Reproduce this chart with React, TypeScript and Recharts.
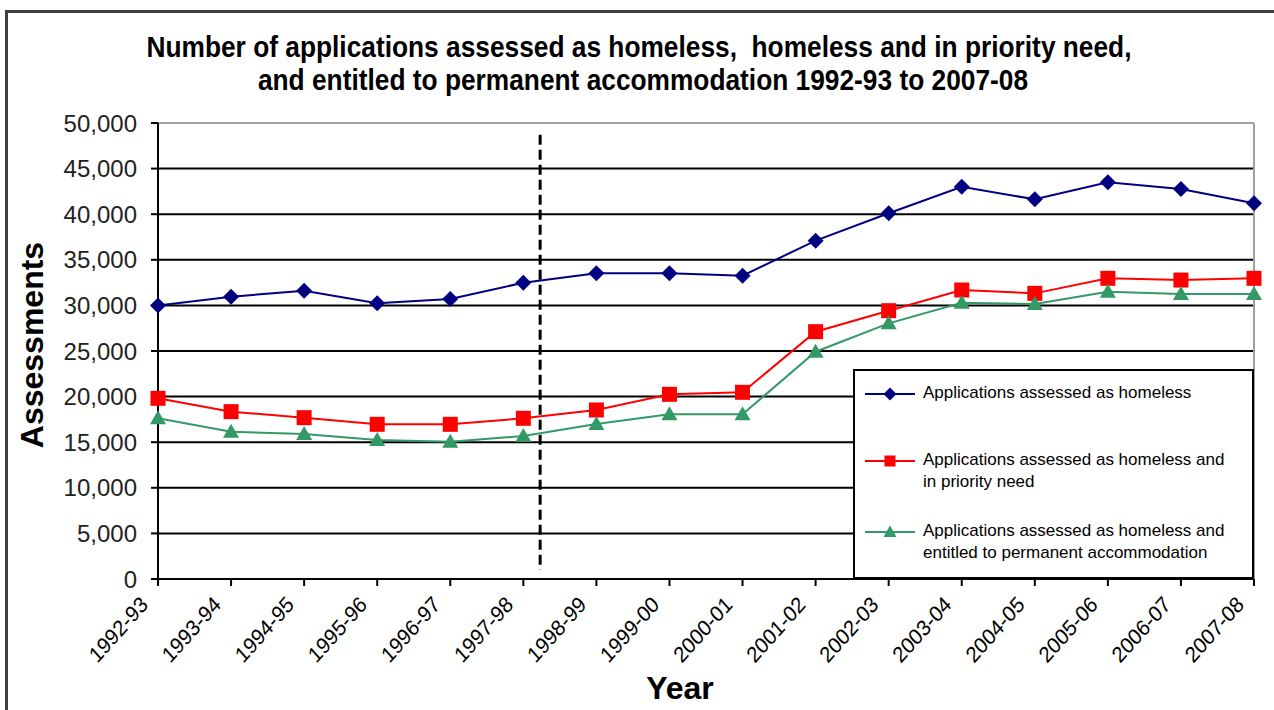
import React from 'react';
import { LineChart, Line, XAxis, YAxis, CartesianGrid, ReferenceLine } from 'recharts';

const years = ['1992-93', '1993-94', '1994-95', '1995-96', '1996-97', '1997-98', '1998-99', '1999-00', '2000-01', '2001-02', '2002-03', '2003-04', '2004-05', '2005-06', '2006-07', '2007-08'];
const homeless = [30000, 30950, 31610, 30230, 30700, 32490, 33520, 33520, 33260, 37100, 40100, 43000, 41630, 43500, 42760, 41200];
const priorityNeed = [19810, 18350, 17690, 16960, 16960, 17620, 18530, 20250, 20470, 27120, 29420, 31690, 31320, 32970, 32780, 32970];
const permanent = [17620, 16150, 15900, 15240, 15060, 15680, 17000, 18060, 18060, 24920, 28030, 30300, 30150, 31500, 31250, 31250];
const yTicks = [0, 5000, 10000, 15000, 20000, 25000, 30000, 35000, 40000, 45000, 50000];
const seriesNames = [
  ['Applications assessed as homeless'],
  ['Applications assessed as homeless and', 'in priority need'],
  ['Applications assessed as homeless and', 'entitled to permanent accommodation'],
];
const seriesColors = ['#000080', '#FF0000', '#339966'];
const seriesKeys = ['homeless', 'priorityNeed', 'permanent'];
const breakPosition = 5.23; // position of dashed break line in category index units
const breakRange = [1000, 48700];

const data = years.map((year, i) => ({
  year,
  idx: i,
  homeless: homeless[i],
  priorityNeed: priorityNeed[i],
  permanent: permanent[i],
}));

const FONT = '"Liberation Sans", Arial, sans-serif';

const Diamond = (props: any) => {
  const { cx, cy, fill, size = 8 } = props;
  if (cx == null || cy == null) return null;
  const r = size;
  return <polygon points={`${cx},${cy - r} ${cx + r},${cy} ${cx},${cy + r} ${cx - r},${cy}`} fill={fill} />;
};
const Square = (props: any) => {
  const { cx, cy, fill, size = 7.5 } = props;
  if (cx == null || cy == null) return null;
  const r = size;
  return <rect x={cx - r} y={cy - r} width={2 * r} height={2 * r} fill={fill} />;
};
const Triangle = (props: any) => {
  const { cx, cy, fill, size = 8 } = props;
  if (cx == null || cy == null) return null;
  const r = size;
  return <polygon points={`${cx},${cy - r} ${cx + r},${cy + r * 0.75} ${cx - r},${cy + r * 0.75}`} fill={fill} />;
};
const markers = [Diamond, Square, Triangle];
const markerSizes = [8, 7.5, 8];
const legendMarkerSizes = [6.5, 5.5, 6.5];

const XTick = (props: any) => {
  const { x, y, payload } = props;
  const ax = x - 9;
  const ay = y + 18;
  return (
    <text transform={`translate(${ax} ${ay}) scale(1 1.12) rotate(-45)`} x={0} y={0} textAnchor="end" fontFamily={FONT} fontSize={20} fill="#000">
      {payload.value}
    </text>
  );
};

export default function App() {
  return (
    <div style={{ position: 'absolute', left: 0, top: 0, width: 1274, height: 710, overflow: 'hidden', background: '#fff' }}>
      <div style={{ position: 'absolute', left: 5, top: 10, width: 1300, height: 800, border: '3px solid #404040', boxSizing: 'border-box' }} />
      <div style={{ position: 'absolute', left: 0, top: 0 }}>
        <LineChart width={1274} height={710} data={data} margin={{ top: 123, right: 20, bottom: 0, left: 0 }}>
          <CartesianGrid vertical={false} stroke="#000" strokeWidth={2} />
          <XAxis
            xAxisId="data"
            dataKey="year"
            interval={0}
            height={131}
            tick={<XTick />}
            tickSize={7}
            tickLine={{ stroke: '#000', strokeWidth: 2 }}
            axisLine={{ stroke: '#000', strokeWidth: 2 }}
          />
          <XAxis xAxisId="num" dataKey="idx" type="number" domain={[0, years.length - 1]} hide />
          <YAxis
            width={158}
            domain={[0, 50000]}
            ticks={yTicks}
            interval={0}
            tickFormatter={(v: number) => v.toLocaleString('en-US')}
            tick={{ fontFamily: FONT, fontSize: 24, fill: '#222' }}
            tickSize={7}
            tickMargin={14}
            tickLine={{ stroke: '#000', strokeWidth: 2 }}
            axisLine={{ stroke: '#000', strokeWidth: 2 }}
          />
          <ReferenceLine xAxisId="data" y={50000} stroke="#a0a0a0" strokeWidth={2} />
          <ReferenceLine xAxisId="data" x={years[years.length - 1]} stroke="#a0a0a0" strokeWidth={2} />
          <ReferenceLine
            xAxisId="num"
            segment={[{ x: breakPosition, y: breakRange[1] }, { x: breakPosition, y: breakRange[0] }]}
            stroke="#000"
            strokeWidth={3}
            strokeDasharray="10 5"
          />
          {seriesKeys.map((k, i) => {
            const M = markers[i];
            return (
              <Line
                key={k}
                xAxisId="data"
                type="linear"
                dataKey={k}
                stroke={seriesColors[i]}
                strokeWidth={2}
                dot={<M fill={seriesColors[i]} size={markerSizes[i]} />}
                activeDot={false}
                isAnimationActive={false}
              />
            );
          })}
        </LineChart>
      </div>
      <div style={{ position: 'absolute', left: 0, width: 1274, top: 31, textAlign: 'center', fontFamily: FONT, fontWeight: 'bold', fontSize: 26.3, lineHeight: '30px', color: '#000', transform: 'scaleY(1.1)', transformOrigin: '0 0' }}>
        <div style={{ marginLeft: 4 }}>Number of applications assessed as homeless,&nbsp; homeless and in priority need,</div>
        <div style={{ marginLeft: 12 }}>and entitled to permanent accommodation 1992-93 to 2007-08</div>
      </div>
      <div style={{ position: 'absolute', left: 32, top: 345, transform: 'translate(-50%, -50%) rotate(-90deg)', fontFamily: FONT, fontWeight: 'bold', fontSize: 32, whiteSpace: 'nowrap', color: '#000' }}>
        Assessments
      </div>
      <div style={{ position: 'absolute', left: 680, top: 688, transform: 'translate(-50%, -50%)', fontFamily: FONT, fontWeight: 'bold', fontSize: 32, whiteSpace: 'nowrap', color: '#000' }}>
        Year
      </div>
      <div style={{ position: 'absolute', left: 853, top: 369, width: 401, height: 210, border: '2px solid #000', background: '#fff', boxSizing: 'border-box', fontFamily: FONT, fontSize: 17, color: '#000' }}>
        {seriesNames.map((lines, i) => {
          const M = markers[i];
          const tops = [11, 78, 149];
          return (
            <div key={i} style={{ position: 'absolute', left: 8, top: tops[i], display: 'flex', alignItems: 'flex-start' }}>
              <svg width={54} height={22} style={{ flex: 'none' }}>
                <line x1={2} y1={12} x2={52} y2={12} stroke={seriesColors[i]} strokeWidth={2} />
                <M cx={27} cy={12} size={legendMarkerSizes[i]} fill={seriesColors[i]} />
              </svg>
              <div style={{ marginLeft: 6, lineHeight: '22px', whiteSpace: 'nowrap' }}>
                {lines.map((l, j) => (
                  <div key={j}>{l}</div>
                ))}
              </div>
            </div>
          );
        })}
      </div>
    </div>
  );
}
